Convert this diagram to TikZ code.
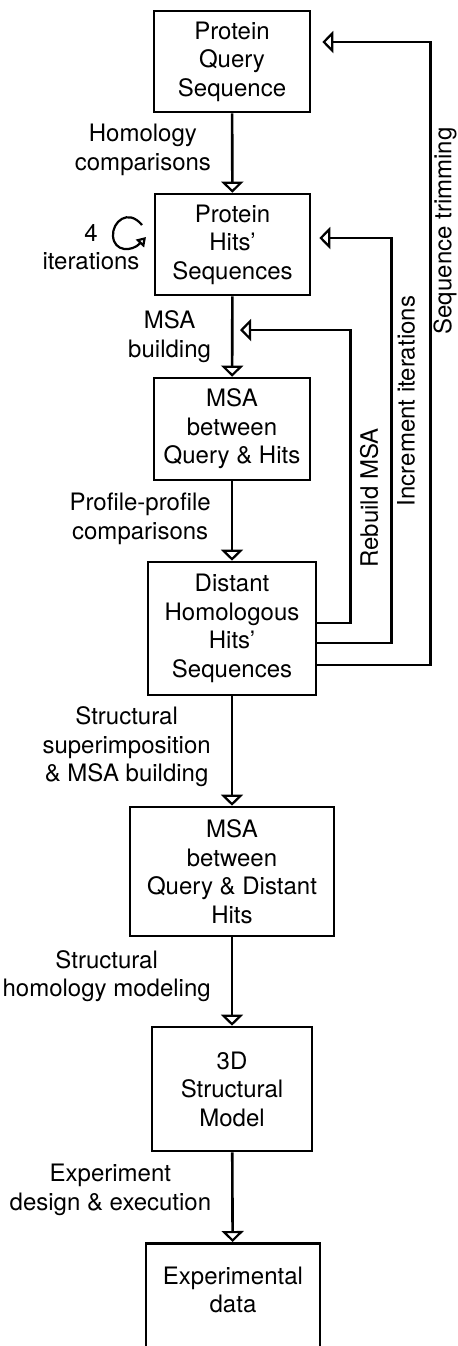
\documentclass[tikz,border=0pt]{standalone}
\usepackage{fontspec}
\setmainfont{TeX Gyre Heros}
\usepackage{tikz}
\usetikzlibrary{arrows.meta, positioning}
\newcommand{\widthline}{1.3pt}
\newcommand{\heightbox}{50.5pt}
\newcommand{\gaplabel}{10pt}
\tikzset{
    common/.style={draw, line width=\widthline},
    stage/.style={common, rectangle, align=center, inner sep=0pt, minimum height=\heightbox},
    lbl/.style={align=center, inner sep=0pt},
    vlabel/.style={lbl, rotate=90},
    flow/.style={common, -{Triangle[open, width=11pt, length=5.5pt, line width=1.1pt]}},
    feedback/.style={flow, shorten >=4pt},
    selfloop/.style={draw, line width=1.1pt, -{Triangle[open, width=5.5pt, length=4.5pt]}}
}

\begin{document}
\begin{tikzpicture}[x=0.5pt, y=-0.5pt, font=\fontsize{12pt}{14.25pt}\selectfont]
            \useasboundingbox (0,0) rectangle (457,1346);

            \node[stage, minimum width=78pt] (query) at (232,61.5) {Protein\\Query\\Sequence};
            \node[stage, minimum width=77.5pt] (hits) at (232.5,244.5) {Protein\\Hits'\\Sequences};
            \node[stage, minimum width=78pt, minimum height=51pt] (msaHits) at (232,429) {MSA\\between\\Query \& Hits};
            \node[stage, minimum width=84pt, minimum height=66.5pt] (distant) at (232,628.5) {Distant\\Homologous\\Hits'\\Sequences};
            \node[stage, minimum width=102pt, minimum height=64.5pt] (msaDistant) at (232,871.5) {MSA\\between\\Query \& Distant\\Hits};
            \node[stage, minimum width=80pt, minimum height=62pt] (model) at (232,1089) {3D\\Structural\\Model};
            \node[stage, minimum width=87pt, anchor=north, text height=34.75pt, text depth=54pt] (data) at (233,1242) {Experimental\\data};

            \draw[flow] (query) -- (hits) node[lbl, midway, left=\gaplabel, yshift=1.5pt] {Homology\\comparisons};
            \draw[flow] (hits) -- (msaHits) node[lbl, midway, left=\gaplabel] {MSA\\building};
            \draw[flow] (msaHits) -- (distant) node[lbl, midway, left=\gaplabel, yshift=1pt] {Profile-profile\\comparisons};
            \draw[flow] (distant) -- (msaDistant) node[lbl, midway, left=\gaplabel, yshift=2pt] {Structural\\superimposition\\\& MSA building};
            \draw[flow] (msaDistant) -- (model) node[lbl, midway, left=\gaplabel, yshift=2.75pt] {Structural\\homology modeling};
            \draw[flow] (model) -- (data) node[lbl, midway, left=\gaplabel, yshift=3.75pt] {Experiment\\design \& execution};

            % loops back from the distant hits
            \coordinate (rebuildIn) at (232,330);
            \draw[feedback] (distant.east) ++(0,-5.5) -- ++(33,0) |- (rebuildIn);
            \draw[feedback] (distant.east) ++(0,14.5) -- ++(74,0) |- ([yshift=3.25pt]hits.east);
            \draw[feedback, shorten >=5.5pt] (distant.east) ++(0,36.5) -- ++(113,0) |- ([yshift=9.75pt]query.east);

            \node[vlabel] (rebuild) at (369,498) {Rebuild MSA};
            \node[vlabel] (increment) at (406,401) {Increment iterations};
            \node[vlabel] (trimming) at (445,231) {Sequence trimming};

            % iterations
            \coordinate (loopStart) at (142,225);
            \coordinate (loopEnd) at (146,237);
            \draw[selfloop] (loopStart) .. controls (128,208) and (112,222) .. (113,236) .. controls (114,252) and (132,252) .. (loopEnd);
            \node[lbl] (iterations) at (91,247) {4\\iterations};

        \end{tikzpicture}
\end{document}
